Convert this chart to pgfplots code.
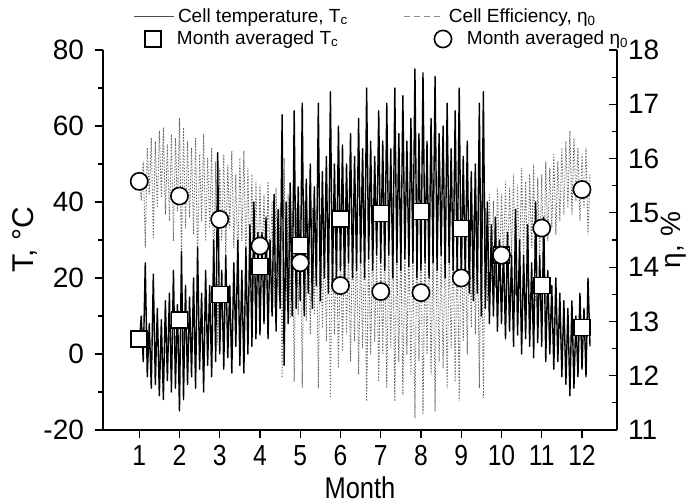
\documentclass[border=0pt]{standalone}
\usepackage{fontspec}
\setmainfont{Liberation Sans}
\newfontfamily\narrowfont[FakeStretch=0.85]{Liberation Sans}
\usepackage{pgfplots}
\usepackage{pgfplotstable}
\pgfplotsset{compat=1.18}

\pgfplotstableread{
x T eta
1.00 2 15.71
1.05 10 15.22
1.10 -2 15.95
1.15 24 14.35
1.20 -6 16.20
1.25 8 15.34
1.30 -9 16.38
1.35 21 14.54
1.40 -8 16.32
1.45 12 15.09
1.50 -11 16.51
1.55 9 15.28
1.60 -12 16.57
1.65 14 14.97
1.70 -7 16.26
1.75 16 14.85
1.80 -10 16.45
1.85 22 14.48
1.90 -9 16.38
1.95 13 15.03
2.00 -15 16.75
2.05 27 14.17
2.10 -12 16.57
2.15 18 14.72
2.20 -8 16.32
2.25 15 14.91
2.30 -6 16.20
2.35 20 14.60
2.40 -9 16.38
2.45 28 14.11
2.50 -4 16.08
2.55 16 14.85
2.60 -10 16.45
2.65 22 14.48
2.70 -3 16.01
2.75 18 14.72
2.80 -6 16.20
2.85 30 13.99
2.90 -2 15.95
2.95 53 12.57
3.00 0 15.83
3.05 22 14.48
3.10 -4 16.08
3.15 26 14.23
3.20 -1 15.89
3.25 18 14.72
3.30 -5 16.14
3.35 24 14.35
3.40 2 15.71
3.45 30 13.99
3.50 -3 16.01
3.55 22 14.48
3.60 -5 16.14
3.65 28 14.11
3.70 0 15.83
3.75 34 13.74
3.80 2 15.71
3.85 40 13.37
3.90 4 15.58
3.95 32 13.86
4.00 5 15.52
4.05 32 13.86
4.10 8 15.34
4.15 36 13.62
4.20 4 15.58
4.25 30 13.99
4.30 10 15.22
4.35 42 13.25
4.40 6 15.46
4.45 38 13.49
4.50 12 15.09
4.55 63 11.96
4.60 -3 16.01
4.65 40 13.37
4.70 8 15.34
4.75 45 13.06
4.80 10 15.22
4.85 64 11.89
4.90 12 15.09
4.95 44 13.12
5.00 14 14.97
5.05 66 11.77
5.10 10 15.22
5.15 46 13.00
5.20 16 14.85
5.25 50 12.76
5.30 12 15.09
5.35 44 13.12
5.40 18 14.72
5.45 66 11.77
5.50 14 14.97
5.55 48 12.88
5.60 20 14.60
5.65 52 12.63
5.70 16 14.85
5.75 69 11.59
5.80 18 14.72
5.85 50 12.76
5.90 20 14.60
5.95 60 12.14
6.00 22 14.48
6.05 55 12.45
6.10 18 14.72
6.15 50 12.76
6.20 24 14.35
6.25 58 12.26
6.30 20 14.60
6.35 52 12.63
6.40 22 14.48
6.45 62 12.02
6.50 24 14.35
6.55 54 12.51
6.60 20 14.60
6.65 70 11.53
6.70 25 14.29
6.75 56 12.39
6.80 22 14.48
6.85 52 12.63
6.90 26 14.23
6.95 64 11.89
7.00 24 14.35
7.05 56 12.39
7.10 22 14.48
7.15 66 11.77
7.20 26 14.23
7.25 54 12.51
7.30 20 14.60
7.35 70 11.53
7.40 24 14.35
7.45 58 12.26
7.50 22 14.48
7.55 68 11.65
7.60 25 14.29
7.65 56 12.39
7.70 23 14.42
7.75 62 12.02
7.80 24 14.35
7.85 75 11.22
7.90 20 14.60
7.95 58 12.26
8.00 22 14.48
8.05 74 11.28
8.10 24 14.35
8.15 56 12.39
8.20 20 14.60
8.25 62 12.02
8.30 24 14.35
8.35 73 11.34
8.40 22 14.48
8.45 58 12.26
8.50 26 14.23
8.55 60 12.14
8.60 20 14.60
8.65 66 11.77
8.70 24 14.35
8.75 54 12.51
8.80 22 14.48
8.85 64 11.89
8.90 20 14.60
8.95 70 11.53
9.00 18 14.72
9.05 52 12.63
9.10 20 14.60
9.15 56 12.39
9.20 16 14.85
9.25 48 12.88
9.30 14 14.97
9.35 50 12.76
9.40 16 14.85
9.45 66 11.77
9.50 10 15.22
9.55 69 11.59
9.60 12 15.09
9.65 40 13.37
9.70 8 15.34
9.75 34 13.74
9.80 10 15.22
9.85 36 13.62
9.90 6 15.46
9.95 30 13.99
10.00 8 15.34
10.05 28 14.11
10.10 4 15.58
10.15 32 13.86
10.20 6 15.46
10.25 26 14.23
10.30 2 15.71
10.35 38 13.49
10.40 5 15.52
10.45 30 13.99
10.50 0 15.83
10.55 26 14.23
10.60 4 15.58
10.65 34 13.74
10.70 2 15.71
10.75 24 14.35
10.80 -1 15.89
10.85 40 13.37
10.90 3 15.65
10.95 26 14.23
11.00 2 15.71
11.05 36 13.62
11.10 -2 15.95
11.15 22 14.48
11.20 0 15.83
11.25 18 14.72
11.30 -4 16.08
11.35 20 14.60
11.40 -2 15.95
11.45 16 14.85
11.50 -6 16.20
11.55 14 14.97
11.60 -8 16.32
11.65 12 15.09
11.70 -11 16.51
11.75 14 14.97
11.80 -9 16.38
11.85 10 15.22
11.90 -6 16.20
11.95 16 14.85
12.00 -4 16.08
12.05 12 15.09
12.10 -6 16.20
12.15 20 14.60
12.20 2 15.71
}\hourly

\pgfplotstableread{
m T
1 4
2 9
3 15.7
4 23
5 28.5
6 35.5
7 37
8 37.5
9 33
10 26
11 18
12 7
}\avgT

\pgfplotstableread{
m eta
1 15.58
2 15.31
3 14.88
4 14.39
5 14.08
6 13.66
7 13.55
8 13.53
9 13.80
10 14.22
11 14.72
12 15.43
}\avgEta

\begin{document}
\begin{tikzpicture}
\useasboundingbox (-51.5pt,-37pt) rectangle (292pt,215pt);
\pgfplotsset{
  base/.style={
    scale only axis, width=257pt, height=190pt,
    xmin=0.1, xmax=12.87, at={(0pt,0pt)}, anchor=south west,
    /pgf/number format/assume math mode=true,
    tick style={black, line width=0.6pt},
    axis line style={black, line width=0.7pt},
    major tick length=4pt, minor tick length=2.5pt,
    legend style={draw=none, fill=none, font=\fontsize{9.5}{11}\selectfont,
      anchor=west, inner sep=0pt, outer sep=0pt},
    legend cell align=left,
  },
  ticklab/.style={font=\fontsize{14}{16}\selectfont},
}
% right axis: efficiency
\begin{axis}[base, ymin=11, ymax=18,
  axis x line=none, xtick=\empty,
  axis y line*=right, ytick={11,...,18}, minor y tick num=1,
  tick align=inside,
  yticklabel style={ticklab, xshift=2pt},
  ylabel={η, \%},
  ylabel style={font=\fontsize{14}{16}\selectfont, at={(rel axis cs:1.111,0.5)}, anchor=center, inner sep=0pt},
  legend style={at={(rel axis cs:0.5856,1.087)}},
  legend image code/.code={\draw[black!45, line width=0.5pt, dash pattern=on 3pt off 2pt] (0pt,0pt) -- (20pt,0pt);},
]
\addplot[black!60, line width=0.45pt, dash pattern=on 0.7pt off 0.8pt] table[x=x,y=eta]{\hourly};
\addlegendentry{Cell Efficiency, η\textsubscript{0}}
\end{axis}
% left axis: temperature
\begin{axis}[base, ymin=-20, ymax=80,
  axis x line*=bottom, axis y line*=left,
  xtick={1,...,12}, ytick={-20,0,...,80}, minor y tick num=1,
  tick align=outside,
  yticklabel style={ticklab, xshift=-2pt},
  xticklabel style={font=\narrowfont\fontsize{14.5}{16}\selectfont},
  xlabel={Month}, ylabel={T, °C},
  xlabel style={font=\narrowfont\fontsize{15}{18}\selectfont, at={(rel axis cs:0.5,-0.152)}, anchor=center},
  ylabel style={font=\fontsize{15}{18}\selectfont, at={(rel axis cs:-0.152,0.5)}, anchor=center},
  legend style={at={(rel axis cs:0.0584,1.087)}},
  legend image code/.code={\draw[black!70, line width=0.5pt] (0pt,0pt) -- (20pt,0pt);},
]
\addplot[black, line width=0.7pt, line join=round] table[x=x,y=T]{\hourly};
\addlegendentry{Cell temperature, T\textsubscript{c}}
\end{axis}
% month averaged temperature
\begin{axis}[base, ymin=-20, ymax=80, hide axis,
  legend style={at={(rel axis cs:0.0661,1.029)}},
  legend image code/.code={\path[draw=none, fill=none] (0pt,0pt) -- (18pt,0pt);\draw[#1] plot coordinates {(8pt,0pt)};},
]
\addplot[only marks, mark=square*, mark size=4pt, mark options={fill=white, draw=black, line width=0.8pt}] table[x=m,y=T]{\avgT};
\addlegendentry{Month averaged T\textsubscript{c}}
\end{axis}
% month averaged efficiency
\begin{axis}[base, ymin=11, ymax=18, hide axis,
  legend style={at={(rel axis cs:0.6303,1.029)}},
  legend image code/.code={\path[draw=none, fill=none] (0pt,0pt) -- (18pt,0pt);\draw[#1] plot coordinates {(8pt,0pt)};},
]
\addplot[only marks, mark=*, mark size=4.3pt, mark options={fill=white, draw=black, line width=0.8pt}] table[x=m,y=eta]{\avgEta};
\addlegendentry{Month averaged η\textsubscript{0}}
\end{axis}
\end{tikzpicture}
\end{document}
